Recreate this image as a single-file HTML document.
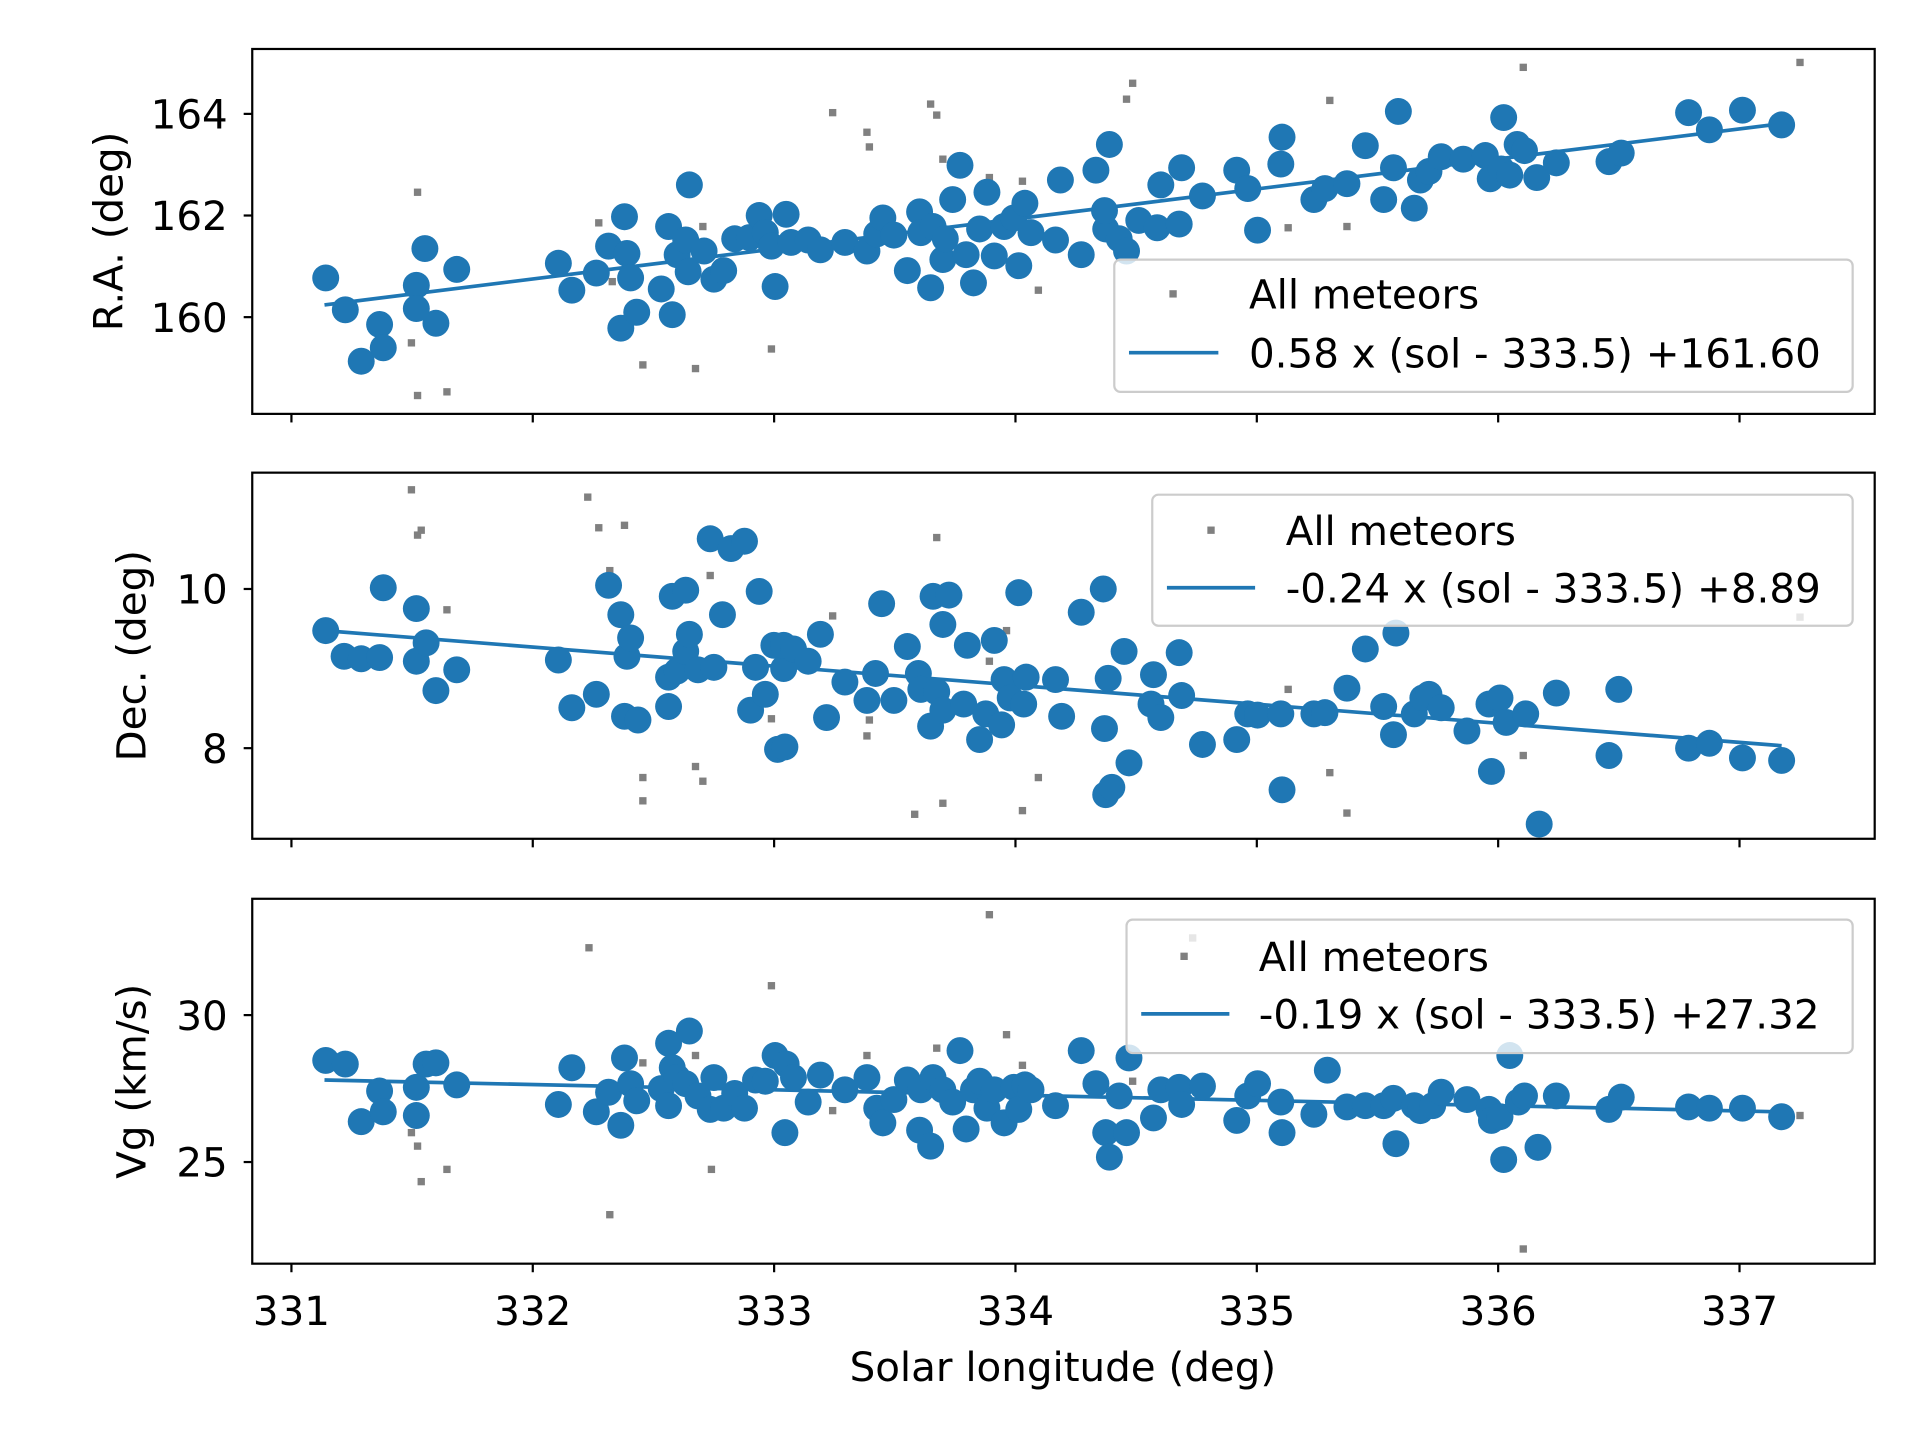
<!DOCTYPE html>
<html><head><meta charset="utf-8"><style>html,body{margin:0;padding:0;background:#fff}svg{display:block}text{font-family:"DejaVu Sans","Liberation Sans",sans-serif;fill:#000}</style></head>
<body>
<svg id="s" width="1920" height="1440" viewBox="0 0 1568 1176" xmlns="http://www.w3.org/2000/svg"></svg>
<script>
const S=document.getElementById('s');let h='';
const B='#1f77b4';const FS=33;
const p1b=[[266,227],[282,253],[295,295],[310,265],[313,284],[340,233],[347,203],[340,252],[356,264],[373,220],[456,215],[467,237],[487,223],[497,201],[510,177],[512,207],[507,268],[515,227],[520,255],[540,236],[549,257],[546,185],[553,208],[560,196],[563,151],[562,222],[575,205],[583,228],[591,221],[600,195],[612,194],[620,176],[625,190],[630,201],[633,234],[642,175],[646,198],[660,196],[670,204],[690,198],[708,205],[716,191],[721,178],[730,192],[741,221],[751,173],[752,190],[760,235],[762,185],[770,212],[772,195],[778,163],[784,135],[789,208],[795,231],[800,187],[806,157],[812,209],[820,185],[828,178],[832,217],[837,166],[842,190],[862,196],[866,147],[883,208],[895,139],[903,187],[902,172],[906,118],[914,195],[920,205],[930,180],[945,186],[948,151],[963,183],[965,137],[982,160],[1010,139],[1019,154],[1027,188],[1046,134],[1047,112],[1073,163],[1082,154],[1100,150],[1115,119],[1130,163],[1138,137],[1142,91],[1155,170],[1160,147],[1167,140],[1177,128],[1195,130],[1213,127],[1217,146],[1226,138],[1228,96],[1233,143],[1239,118],[1245,123],[1255,145],[1271,133],[1314,132],[1324,125],[1379,92],[1396,106],[1423,90],[1455,102]];
const p1g=[[341,157],[336,280],[341,323],[365,320],[489,182],[525,298],[568,301],[630,285],[680,92],[708,108],[710,120],[760,85],[765,94],[770,130],[808,145],[835,148],[848,237],[920,81],[925,68],[1052,186],[1086,82],[1100,185],[1244,55],[1470,51],[574,185],[500,230]];
const p2b=[[266,515],[281,536],[295,538],[310,537],[313,480],[340,497],[340,540],[348,525],[356,564],[373,547],[456,539],[467,578],[487,567],[497,478],[507,502],[512,536],[515,521],[510,585],[521,588],[546,577],[549,487],[546,553],[553,548],[560,482],[560,532],[563,518],[570,547],[580,440],[583,545],[597,448],[608,442],[590,502],[620,483],[617,545],[613,580],[625,567],[632,527],[635,612],[641,610],[640,546],[640,527],[648,530],[660,540],[670,518],[675,586],[690,557],[708,572],[715,550],[720,493],[730,572],[741,528],[750,550],[752,563],[760,593],[762,487],[770,510],[775,486],[765,565],[770,580],[787,575],[790,527],[800,604],[805,583],[812,523],[818,592],[820,555],[825,570],[832,484],[836,575],[838,553],[862,555],[867,585],[883,500],[901,481],[902,595],[905,554],[903,649],[908,643],[918,532],[922,623],[940,575],[942,551],[948,586],[963,533],[965,568],[982,608],[1010,604],[1019,583],[1027,584],[1046,583],[1047,645],[1073,583],[1082,582],[1100,562],[1115,530],[1130,577],[1140,517],[1138,600],[1155,583],[1162,570],[1167,567],[1177,578],[1198,597],[1216,575],[1218,630],[1225,570],[1230,590],[1246,583],[1257,673],[1271,566],[1314,617],[1322,563],[1379,611],[1396,607],[1423,619],[1455,621]];
const p2g=[[336,400],[344,433],[341,437],[365,498],[480,406],[489,431],[498,466],[510,429],[525,635],[525,654],[568,626],[574,638],[580,470],[680,503],[708,601],[710,588],[747,665],[765,439],[770,656],[808,540],[822,515],[835,662],[848,635],[1052,563],[1086,631],[1100,664],[1244,617],[1470,504],[630,587]];
const p3b=[[266,866],[282,869],[295,916],[310,891],[313,908],[340,911],[340,888],[348,869],[356,868],[373,886],[456,902],[467,872],[487,908],[497,892],[510,864],[507,919],[515,885],[520,899],[540,889],[546,852],[549,872],[546,903],[553,880],[560,885],[563,842],[570,895],[580,906],[583,880],[591,905],[600,893],[608,905],[617,882],[625,883],[633,862],[641,925],[642,869],[648,880],[660,900],[670,878],[690,890],[708,880],[716,905],[721,917],[730,898],[741,882],[751,923],[752,890],[760,936],[762,880],[770,890],[778,900],[784,858],[789,922],[795,890],[800,883],[806,905],[812,890],[820,917],[828,888],[832,906],[837,886],[842,890],[862,903],[883,858],[895,885],[903,925],[906,945],[914,895],[920,925],[922,864],[942,913],[948,890],[963,888],[965,902],[982,887],[1010,915],[1019,895],[1027,885],[1046,900],[1047,925],[1073,910],[1084,874],[1100,904],[1115,903],[1130,903],[1140,934],[1138,897],[1155,903],[1160,907],[1170,903],[1177,892],[1198,898],[1216,906],[1218,915],[1225,912],[1228,947],[1233,862],[1240,900],[1245,895],[1256,937],[1271,895],[1314,906],[1324,896],[1379,904],[1396,905],[1423,905],[1455,912]];
const p3g=[[336,925],[341,936],[344,965],[365,955],[481,774],[498,992],[525,868],[581,955],[568,862],[630,805],[680,907],[708,862],[765,856],[808,747],[822,845],[835,870],[925,883],[974,766],[1244,1020],[1470,911]];
const panels=[
 {t:40,b:338,g:p1g,bl:p1b,ln:[265,249,1455,101],yt:[[93,'164'],[176,'162'],[259,'160']],lab:'R.A. (deg)',lx:88,
  lg:{x:910,y:212,w:603,h:108,mx:958,my:240,ly:288,l1:922,l2:995,tx:1020,txt:'0.58 x (sol - 333.5) +161.60'}},
 {t:386,b:685,g:p2g,bl:p2b,ln:[265,515,1455,609],yt:[[481,'10'],[611,'8']],lab:'Dec. (deg)',lx:107,
  lg:{x:941,y:404,w:572,h:107,mx:989,my:433,ly:480,l1:953,l2:1025,tx:1050,txt:'-0.24 x (sol - 333.5) +8.89'}},
 {t:734,b:1032,g:p3g,bl:p3b,ln:[265,882,1455,908],yt:[[829,'30'],[949,'25']],lab:'Vg (km/s)',lx:107,
  lg:{x:920,y:751,w:593,h:109,mx:967,my:781,ly:828,l1:932,l2:1004,tx:1028,txt:'-0.19 x (sol - 333.5) +27.32'}}];
panels.forEach((p,i)=>{
 h+=`<clipPath id="c${i}"><rect x="206" y="${p.t}" width="1325" height="${p.b-p.t}"/></clipPath><g clip-path="url(#c${i})">`;
 p.g.forEach(([x,y])=>h+=`<rect x="${x-3}" y="${y-3}" width="6" height="6" fill="#808080"/>`);
 h+=`<line x1="${p.ln[0]}" y1="${p.ln[1]}" x2="${p.ln[2]}" y2="${p.ln[3]}" stroke="${B}" stroke-width="3"/>`;
 p.bl.forEach(([x,y])=>h+=`<ellipse cx="${x}" cy="${y}" rx="11" ry="11" fill="${B}"/>`);
 h+=`</g><rect x="206" y="${p.t}" width="1325" height="${p.b-p.t}" fill="none" stroke="#000" stroke-width="1.8"/>`;
 for(let k=0;k<7;k++){const x=238+k*197.1;h+=`<line x1="${x}" y1="${p.b}" x2="${x}" y2="${p.b+7}" stroke="#000" stroke-width="1.8"/>`;
  if(i==2)h+=`<text x="${x}" y="${p.b+50}" font-size="${FS}" text-anchor="middle">${331+k}</text>`;}
 p.yt.forEach(([y,t])=>{h+=`<line x1="199" y1="${y}" x2="206" y2="${y}" stroke="#000" stroke-width="1.8"/><text x="186" y="${y+12}" font-size="${FS}" text-anchor="end">${t}</text>`;});
 const cy=(p.t+p.b)/2;
 h+=`<text transform="translate(${p.lx+12},${cy}) rotate(-90)" font-size="${FS}" text-anchor="middle">${p.lab}</text>`;
 const L=p.lg;
 h+=`<rect x="${L.x}" y="${L.y}" width="${L.w}" height="${L.h}" rx="5" fill="#fff" fill-opacity="0.8" stroke="#ccc" stroke-width="1.8"/>`;
 h+=`<rect x="${L.mx-3}" y="${L.my-3}" width="6" height="6" fill="#808080"/><text x="${L.tx}" y="${L.my+12}" font-size="${FS}">All meteors</text>`;
 h+=`<line x1="${L.l1}" y1="${L.ly}" x2="${L.l2}" y2="${L.ly}" stroke="${B}" stroke-width="3"/><text x="${L.tx}" y="${L.ly+12}" font-size="${FS}">${L.txt}</text>`;
});
h+=`<text x="868" y="1128" font-size="${FS}" text-anchor="middle">Solar longitude (deg)</text>`;
S.innerHTML=h;
</script>
</body></html>
